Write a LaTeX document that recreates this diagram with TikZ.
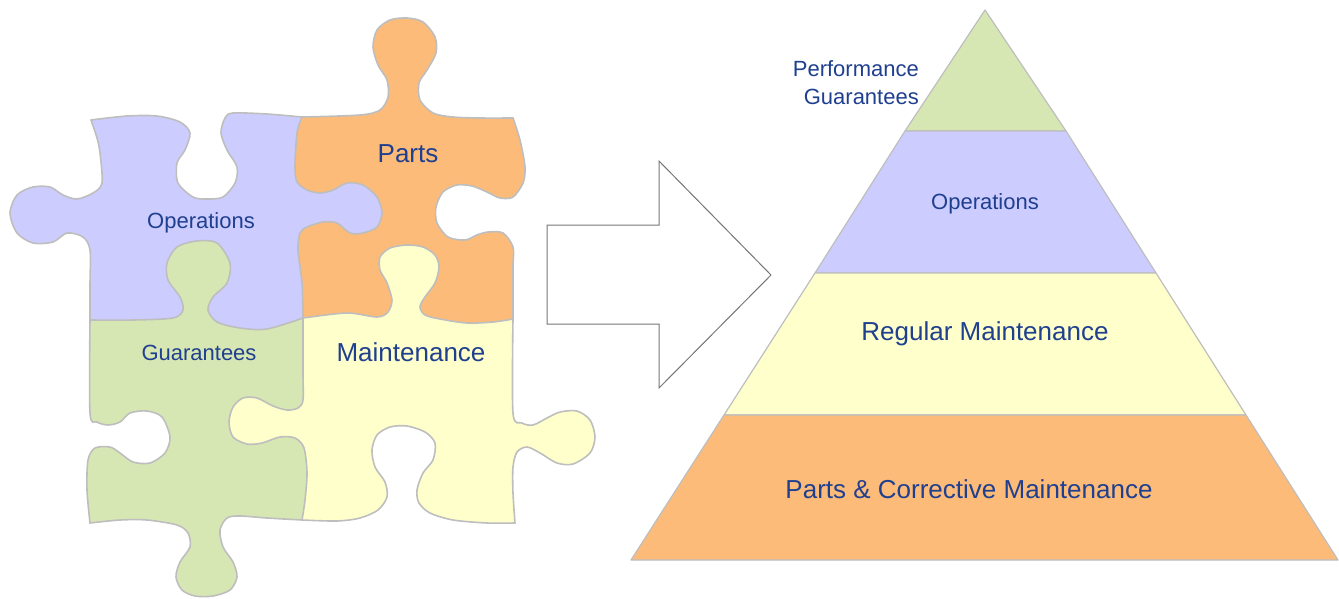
\documentclass[tikz,border=0pt]{standalone}
\usepackage{fontspec}
\setmainfont{Liberation Sans}
\begin{document}
\definecolor{pzPurple}{HTML}{CCCCFF}
\definecolor{pzOrange}{HTML}{FDBB79}
\definecolor{pzGreen}{HTML}{D7E7B4}
\definecolor{pzYellow}{HTML}{FFFFCC}
\definecolor{pzEdge}{HTML}{BEBEBE}
\definecolor{txtBlue}{HTML}{1F3F8F}
\definecolor{arrowGray}{HTML}{767676}
% piece edges as path continuations; an "r" suffix marks the same edge run backwards
\def\cTopP{-- plot[smooth] coordinates {(91,120) (127,116) (157,116) (180,122) (190,133) (185,150) (177,163) (178,183) (193,197) (207,199) (223,197) (235,183) (237,167) (227,150) (221,133) (225,118) (233,113) (267,114) (302,117)}}
\def\cLeftP{-- plot[smooth] coordinates {(91,120) (97,138) (100,153) (102,183) (93,193) (77,199) (63,195) (50,187) (33,187) (17,195) (10,213) (17,233) (33,243) (53,242) (67,233) (83,237) (90,250) (90,285) (90,320)}}
\def\cLeftPr{-- plot[smooth] coordinates {(90,320) (90,285) (90,250) (83,237) (67,233) (53,242) (33,243) (17,233) (10,213) (17,195) (33,187) (50,187) (63,195) (77,199) (93,193) (102,183) (100,153) (97,138) (91,120)}}
\def\cPO{-- plot[smooth] coordinates {(302,117) (297,133) (295,167) (297,182) (307,190) (320,193) (333,190) (347,183) (363,185) (377,197) (382,213) (377,227) (363,233) (350,233) (337,223) (323,222) (307,227) (300,233) (298,250) (302,283) (303,318)}}
\def\cPOr{-- plot[smooth] coordinates {(303,318) (302,283) (298,250) (300,233) (307,227) (323,222) (337,223) (350,233) (363,233) (377,227) (382,213) (377,197) (363,185) (347,183) (333,190) (320,193) (307,190) (297,182) (295,167) (297,133) (302,117)}}
\def\cPG{-- plot[smooth] coordinates {(90,320) (133,320) (173,318) (183,310) (180,297) (168,280) (167,263) (177,247) (197,241) (217,243) (230,263) (227,283) (213,297) (208,310) (217,322) (240,328) (267,329) (303,318)}}
\def\cPGr{-- plot[smooth] coordinates {(303,318) (267,329) (240,328) (217,322) (208,310) (213,297) (227,283) (230,263) (217,243) (197,241) (177,247) (167,263) (168,280) (180,297) (183,310) (173,318) (133,320) (90,320)}}
\def\cTopO{-- plot[smooth] coordinates {(302,117) (360,115) (380,110) (388,97) (387,80) (378,65) (373,47) (377,30) (390,20) (407,18) (423,22) (435,37) (436,53) (427,70) (419,83) (420,100) (433,113) (453,117) (480,118) (513,118)}}
\def\cRightO{-- plot[smooth] coordinates {(513,118) (520,140) (525,167) (523,183) (513,197) (500,198) (487,192) (472,186) (457,185) (443,192) (436,207) (437,223) (448,237) (465,240) (477,235) (488,232) (503,233) (513,247) (513,267) (513,319)}}
\def\cOY{-- plot[smooth] coordinates {(303,318) (347,313) (377,317) (388,312) (392,300) (387,283) (380,270) (380,257) (390,248) (407,245) (423,247) (435,255) (439,267) (435,283) (425,297) (420,307) (425,315) (440,319) (467,323) (493,322) (513,319)}}
\def\cOYr{-- plot[smooth] coordinates {(513,319) (493,322) (467,323) (440,319) (425,315) (420,307) (425,297) (435,283) (439,267) (435,255) (423,247) (407,245) (390,248) (380,257) (380,270) (387,283) (392,300) (388,312) (377,317) (347,313) (303,318)}}
\def\cLeftG{-- plot[smooth] coordinates {(90,320) (90,413) (97,422) (108,425) (120,422) (130,413) (147,411) (162,417) (170,437) (165,453) (150,463) (133,462) (120,453) (110,447) (95,448) (88,460) (87,490) (90,523)}}
\def\cLeftGr{-- plot[smooth] coordinates {(90,523) (87,490) (88,460) (95,448) (110,447) (120,453) (133,462) (150,463) (165,453) (170,437) (162,417) (147,411) (130,413) (120,422) (108,425) (97,422) (90,413) (90,320)}}
\def\cBotG{-- plot[smooth] coordinates {(90,523) (120,520) (147,520) (177,525) (188,533) (190,547) (180,562) (176,577) (182,590) (195,596) (213,596) (230,590) (237,577) (233,562) (223,547) (220,530) (227,518) (240,516) (267,518) (302,520)}}
\def\cBotGr{-- plot[smooth] coordinates {(302,520) (267,518) (240,516) (227,518) (220,530) (223,547) (233,562) (237,577) (230,590) (213,596) (195,596) (182,590) (176,577) (180,562) (190,547) (188,533) (177,525) (147,520) (120,520) (90,523)}}
\def\cGY{-- plot[smooth] coordinates {(303,318) (303,373) (303,400) (298,408) (287,410) (273,406) (257,398) (243,398) (233,407) (229,422) (233,437) (247,444) (262,443) (280,437) (295,438) (304,448) (307,473) (305,500) (302,520)}}
\def\cGYr{-- plot[smooth] coordinates {(302,520) (305,500) (307,473) (304,448) (295,438) (280,437) (262,443) (247,444) (233,437) (229,422) (233,407) (243,398) (257,398) (273,406) (287,410) (298,408) (303,400) (303,373) (303,318)}}
\def\cRightY{-- plot[smooth] coordinates {(513,319) (513,413) (522,423) (533,425) (547,418) (560,412) (577,411) (590,420) (595,437) (590,453) (573,464) (557,463) (540,453) (527,447) (517,452) (513,467) (513,493) (515,523)}}
\def\cBotY{-- plot[smooth] coordinates {(515,523) (487,523) (453,520) (430,513) (419,503) (417,490) (423,473) (433,460) (435,443) (425,432) (407,426) (390,427) (377,435) (372,450) (375,467) (385,482) (387,497) (378,510) (360,518) (337,521) (302,520)}}
\begin{tikzpicture}[x=1pt,y=-1pt,
  pieceedge/.style={draw=pzEdge, line width=1.6pt, line join=round, line cap=round},
  lblS/.style={text=txtBlue, font=\fontsize{22}{25}\selectfont, inner sep=0pt},
  lblL/.style={text=txtBlue, font=\fontsize{26}{29}\selectfont, inner sep=0pt},
  band/.style={draw=pzEdge, line width=1.2pt, line join=round},
  bigarrow/.style={draw=arrowGray, line width=1pt, fill=white}]
\useasboundingbox (0,0) rectangle (1339,598);

% puzzle piece fills, each a closed loop of its four edges
\fill[pzPurple] (91,120) \cTopP \cPO \cPGr \cLeftPr -- cycle;
\fill[pzOrange] (302,117) \cTopO \cRightO \cOYr \cPOr -- cycle;
\fill[pzGreen] (90,320) \cPG \cGY \cBotGr \cLeftGr -- cycle;
\fill[pzYellow] (303,318) \cOY \cRightY \cBotY \cGYr -- cycle;

% piece outlines
\draw[pieceedge] (91,120) \cTopP;
\draw[pieceedge] (91,120) \cLeftP;
\draw[pieceedge] (302,117) \cPO;
\draw[pieceedge] (90,320) \cPG;
\draw[pieceedge] (302,117) \cTopO;
\draw[pieceedge] (513,118) \cRightO;
\draw[pieceedge] (303,318) \cOY;
\draw[pieceedge] (90,320) \cLeftG;
\draw[pieceedge] (90,523) \cBotG;
\draw[pieceedge] (303,318) \cGY;
\draw[pieceedge] (513,319) \cRightY;
\draw[pieceedge] (515,523) \cBotY;

% piece labels
\node[lblS] (pOps) at (201,223) {Operations};
\node[lblL] (pParts) at (408,154) {Parts};
\node[lblS] (pGuar) at (199,353) {Guarantees};
\node[lblL] (pMaint) at (411,352) {Maintenance};

% block arrow
\draw[bigarrow] (547,225) -- (659,225) -- (659,161) -- (771,275) -- (659,388) -- (659,324) -- (547,324) -- cycle;

% pyramid bands
\coordinate (apex) at (985,10);
\filldraw[band, fill=pzGreen] (apex) -- (1066,131) -- (905,131) -- cycle;
\filldraw[band, fill=pzPurple] (905,131) -- (1066,131) -- (1156,273) -- (815,273) -- cycle;
\filldraw[band, fill=pzYellow] (815,273) -- (1156,273) -- (1246,415) -- (724,415) -- cycle;
\filldraw[band, fill=pzOrange] (724,415) -- (1246,415) -- (1338,560) -- (631,560) -- cycle;

% pyramid labels
\node[lblS, align=right, anchor=east, font=\fontsize{22}{28}\selectfont] (yPerf) at (919,83) {Performance\\Guarantees};
\node[lblS] (yOps) at (985,204) {Operations};
\node[lblL] (yReg) at (985,334) {Regular Maintenance};
\node[lblL] (yParts) at (969,489) {Parts \& Corrective Maintenance};
\end{tikzpicture}
\end{document}
